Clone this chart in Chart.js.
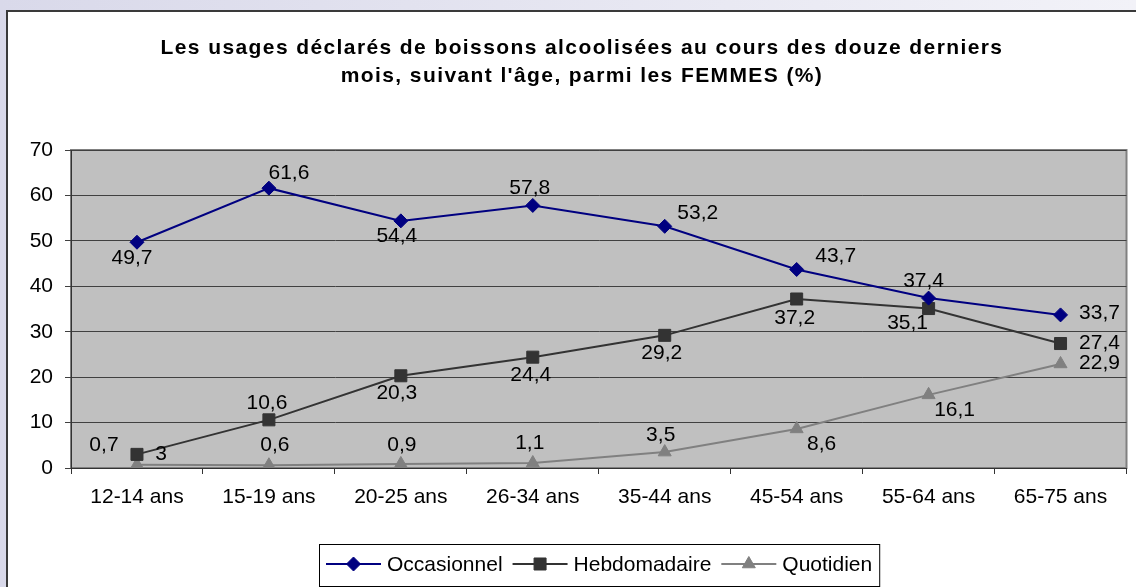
<!DOCTYPE html>
<html><head><meta charset="utf-8">
<script src="https://cdn.jsdelivr.net/npm/chart.js@4.4.1/dist/chart.umd.min.js"></script>
<style>html,body{margin:0;padding:0;background:#fff;overflow:hidden}#wrap{width:1136px;height:587px}</style>
</head><body><div id="wrap"><canvas id="c" width="1136" height="587"></canvas></div>
<script>
const categories = ['12-14 ans','15-19 ans','20-25 ans','26-34 ans','35-44 ans','45-54 ans','55-64 ans','65-75 ans'];
const occasionnel = [49.7, 61.6, 54.4, 57.8, 53.2, 43.7, 37.4, 33.7];
const hebdomadaire = [3, 10.6, 20.3, 24.4, 29.2, 37.2, 35.1, 27.4];
const quotidien = [0.7, 0.6, 0.9, 1.1, 3.5, 8.6, 16.1, 22.9];
const seriesNames = ['Occasionnel', 'Hebdomadaire', 'Quotidien'];
const yMin = 0, yMax = 70, yStep = 10;
const titleLines = ["Les usages déclarés de boissons alcoolisées au cours des douze derniers", "mois, suivant l'âge, parmi les FEMMES (%)"];

// label placement offsets (style only)
const labelOffsets = [
  [[-5,16],[20,-15],[-4,15],[-3,-17],[33,-13],[39,-13],[-5,-17],[39,-2]],
  [[24,0],[-2,-17],[-4,17],[-2,18],[-3,18],[-2,19],[-21,15],[39,0]],
  [[-33,-20],[6,-20],[1,-19],[-3,-20],[-4,-17],[25,15],[26,15],[39,-1]]
];
const colors = ['#000080', '#333333', '#808080'];
const pointStyles = ['rectRot', 'rect', 'triangle'];
const pointRadii = [7, 8.5, 7.5];
const FONT = '"Liberation Sans", Arial, sans-serif';
const FS = 21;

const fmt = v => String(v).replace('.', ',');

const bgPlugin = {
  id: 'bg',
  beforeDraw(chart) {
    const ctx = chart.ctx, a = chart.chartArea;
    ctx.save();
    const g = ctx.createLinearGradient(0, 0, 1136, 0);
    g.addColorStop(0, '#d9d9ea');
    g.addColorStop(1, '#f2f2f8');
    ctx.fillStyle = g;
    ctx.fillRect(0, 0, chart.width, chart.height);
    ctx.fillStyle = '#ffffff';
    ctx.fillRect(7, 11, chart.width, chart.height);
    ctx.strokeStyle = '#3a3a3a';
    ctx.lineWidth = 2;
    ctx.strokeRect(7, 11, chart.width + 10, chart.height + 10);
    ctx.fillStyle = '#c0c0c0';
    ctx.fillRect(a.left, a.top, a.right - a.left, a.bottom - a.top);
    ctx.strokeStyle = '#808080';
    ctx.lineWidth = 2;
    ctx.strokeRect(a.left, a.top, a.right - a.left, a.bottom - a.top);
    ctx.restore();
  },
  afterDraw(chart) {
    const ctx = chart.ctx, a = chart.chartArea;
    ctx.save();
    // title
    ctx.fillStyle = '#000';
    ctx.font = 'bold 21px ' + FONT;
    ctx.textAlign = 'center';
    ctx.textBaseline = 'middle';
    try { ctx.letterSpacing = '1.4px'; } catch (e) {}
    ctx.fillText(titleLines[0], 582, 48);
    ctx.fillText(titleLines[1], 582, 76);
    try { ctx.letterSpacing = '0px'; } catch (e) {}
    // data labels
    ctx.font = FS + 'px ' + FONT;
    chart.data.datasets.forEach((ds, di) => {
      const meta = chart.getDatasetMeta(di);
      meta.data.forEach((pt, i) => {
        const o = labelOffsets[di][i];
        ctx.fillText(fmt(ds.data[i]), pt.x + o[0], pt.y + o[1]);
      });
    });
    // legend
    ctx.font = FS + 'px ' + FONT;
    ctx.textAlign = 'left';
    const lineLen = 55, gap = 6, itemGap = 10, padX = 7;
    let widths = chart.data.datasets.map(ds => lineLen + gap + ctx.measureText(ds.label).width);
    let total = widths.reduce((s, w) => s + w, 0) + itemGap * (widths.length - 1) + padX * 2;
    const cx = (a.left + a.right) / 2;
    const bx = Math.round(cx - total / 2), by = 544, bh = 42;
    ctx.strokeStyle = '#000';
    ctx.lineWidth = 1;
    ctx.strokeRect(bx + 0.5, by + 0.5, total, bh);
    let x = bx + padX;
    const ly = 564;
    chart.data.datasets.forEach((ds, di) => {
      ctx.strokeStyle = ds.borderColor;
      ctx.lineWidth = 2;
      ctx.beginPath();
      ctx.moveTo(x, ly); ctx.lineTo(x + lineLen, ly);
      ctx.stroke();
      ctx.fillStyle = ds.pointBackgroundColor;
      ctx.strokeStyle = ds.pointBorderColor;
      ctx.lineWidth = 1;
      Chart.helpers.drawPoint(ctx, {pointStyle: ds.pointStyle, radius: ds.pointRadius, borderWidth: 1, rotation: 0}, x + lineLen / 2, ly);
      ctx.fillStyle = '#000';
      ctx.fillText(ds.label, x + lineLen + gap, ly + 1);
      x += widths[di] + itemGap;
    });
    ctx.restore();
  }
};

const seriesData = [occasionnel, hebdomadaire, quotidien];
const datasets = seriesData.map((d, i) => ({
  label: seriesNames[i],
  data: d,
  borderColor: colors[i],
  backgroundColor: colors[i],
  pointBackgroundColor: colors[i],
  pointBorderColor: colors[i],
  pointStyle: pointStyles[i],
  pointRadius: pointRadii[i],
  pointBorderWidth: 1,
  borderWidth: 2,
  tension: 0,
  fill: false
}));

new Chart(document.getElementById('c'), {
  type: 'line',
  data: { labels: categories, datasets },
  options: {
    responsive: false,
    devicePixelRatio: 1,
    animation: false,
    layout: { padding: { left: 0, right: 5, top: 150, bottom: 0 } },
    plugins: { legend: { display: false }, title: { display: false }, tooltip: { enabled: false } },
    scales: {
      x: {
        type: 'category',
        offset: true,
        grid: { offset: true, drawOnChartArea: false, drawTicks: true, tickLength: 6, color: '#333' },
        border: { color: '#333', width: 1 },
        ticks: { color: '#000', font: { family: FONT, size: FS }, padding: 11, maxRotation: 0, autoSkip: false },
        afterFit(s) { s.height = 119; }
      },
      y: {
        min: yMin, max: yMax,
        grid: { color: '#404040', tickLength: 6, lineWidth: 1 },
        border: { color: '#333', width: 1 },
        ticks: { stepSize: yStep, color: '#000', font: { family: FONT, size: FS }, padding: 12 },
        afterFit(s) { s.width = 71; }
      }
    }
  },
  plugins: [bgPlugin]
});
</script></body></html>
